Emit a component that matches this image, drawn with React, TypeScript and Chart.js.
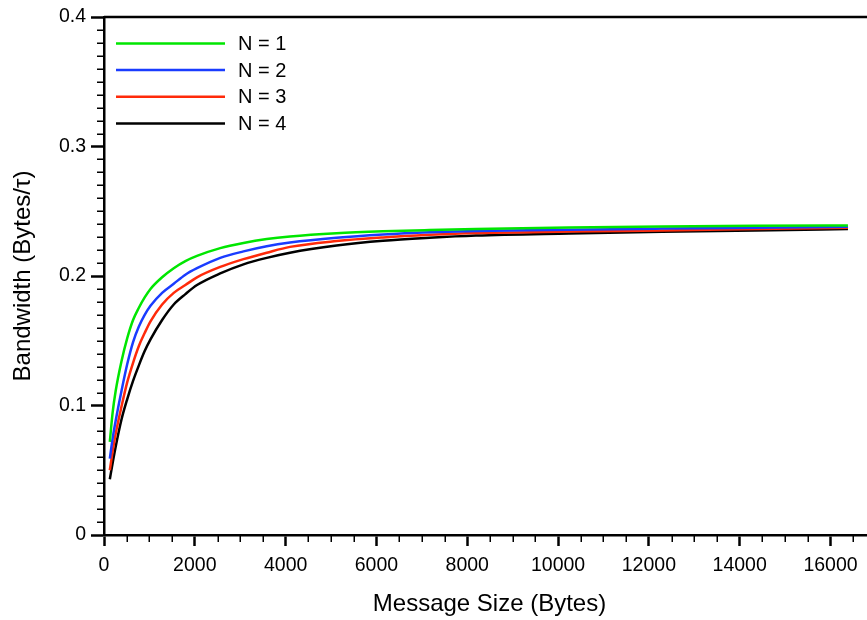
import React, { useEffect, useRef } from 'react';
import { Chart, registerables } from 'chart.js';

Chart.register(...registerables);

// Message size (bytes) sampled along the curves
const messageSizes = [128, 192, 256, 384, 512, 640, 768, 896, 1024, 1280, 1536, 1792, 2048, 2560, 3072, 3584, 4096, 5120, 6144, 7168, 8192, 10240, 12288, 14336, 16384];

// Bandwidth (Bytes/τ)
const bandwidthN1 = [0.072, 0.095, 0.111, 0.134, 0.152, 0.166, 0.1755, 0.1835, 0.190, 0.199, 0.206, 0.2115, 0.2155, 0.2215, 0.2255, 0.2285, 0.2305, 0.233, 0.2345, 0.2355, 0.2363, 0.2375, 0.2383, 0.2388, 0.239];
const bandwidthN2 = [0.059, 0.075, 0.088, 0.111, 0.132, 0.149, 0.161, 0.170, 0.177, 0.187, 0.194, 0.201, 0.206, 0.214, 0.219, 0.223, 0.2258, 0.2295, 0.232, 0.2337, 0.2348, 0.2358, 0.2366, 0.2373, 0.238];
const bandwidthN3 = [0.050, 0.065, 0.078, 0.099, 0.118, 0.133, 0.146, 0.156, 0.165, 0.178, 0.187, 0.193, 0.199, 0.207, 0.213, 0.218, 0.2225, 0.227, 0.2298, 0.2318, 0.2332, 0.2343, 0.2352, 0.2362, 0.2373];
const bandwidthN4 = [0.043, 0.056, 0.068, 0.089, 0.105, 0.119, 0.131, 0.142, 0.151, 0.166, 0.178, 0.186, 0.193, 0.202, 0.209, 0.214, 0.218, 0.2235, 0.2272, 0.2295, 0.2312, 0.2328, 0.2341, 0.2352, 0.2362];

const seriesLabels = ['N = 1', 'N = 2', 'N = 3', 'N = 4'];
const seriesColors = ['#00e600', '#1a3cff', '#ff2a0a', '#000000'];

const xMajorTicks = [0, 2000, 4000, 6000, 8000, 10000, 12000, 14000, 16000];
const yMajorTicks = [0, 0.1, 0.2, 0.3, 0.4];
const yTickLabels = ['0', '0.1', '0.2', '0.3', '0.4'];

const xAxisTitle = 'Message Size (Bytes)';
const yAxisTitle = 'Bandwidth (Bytes/τ)';

const FONT = "'Liberation Sans', Arial, Helvetica, sans-serif";

// the plotted frame runs slightly past the right edge of the visible picture
const CANVAS_W = 875;
const CANVAS_H = 620;

const framePlugin = {
  id: 'framePlugin',
  afterDraw(chart: any) {
    const { ctx, chartArea } = chart;
    const xs = chart.scales.x;
    const ys = chart.scales.y;
    ctx.save();
    ctx.strokeStyle = '#000';
    // top frame line
    ctx.lineWidth = 2.5;
    ctx.beginPath();
    ctx.moveTo(chartArea.left, chartArea.top);
    ctx.lineTo(chartArea.right, chartArea.top);
    ctx.stroke();
    // minor ticks
    ctx.lineWidth = 1.5;
    ctx.beginPath();
    for (let v = 500; v < xs.max; v += 500) {
      if (v % 2000 === 0) continue;
      const px = Math.round(xs.getPixelForValue(v)) + 0.25;
      ctx.moveTo(px, chartArea.bottom);
      ctx.lineTo(px, chartArea.bottom + 7);
    }
    for (let i = 1; i < 40; i++) {
      if (i % 10 === 0) continue;
      const py = Math.round(ys.getPixelForValue(i / 100)) + 0.25;
      ctx.moveTo(chartArea.left - 7, py);
      ctx.lineTo(chartArea.left, py);
    }
    ctx.stroke();
    ctx.restore();
  },
};

const legendPlugin = {
  id: 'insideLegend',
  afterDatasetsDraw(chart: any) {
    const { ctx, chartArea } = chart;
    ctx.save();
    ctx.font = `20px ${FONT}`;
    ctx.textBaseline = 'middle';
    ctx.textAlign = 'left';
    chart.data.datasets.forEach((ds: any, i: number) => {
      const y = chartArea.top + 26.4 + i * 26.7;
      const x0 = chartArea.left + 12;
      ctx.strokeStyle = ds.borderColor;
      ctx.lineWidth = 2.5;
      ctx.beginPath();
      ctx.moveTo(x0, y);
      ctx.lineTo(x0 + 109, y);
      ctx.stroke();
      ctx.fillStyle = '#000';
      ctx.fillText(ds.label, x0 + 122, y + 1);
    });
    ctx.restore();
  },
};

export default function App() {
  const ref = useRef<HTMLCanvasElement>(null);
  useEffect(() => {
    document.body.style.margin = '0';
    const canvas = ref.current!;
    Chart.defaults.font.family = FONT;
    const series = [bandwidthN1, bandwidthN2, bandwidthN3, bandwidthN4];
    const chart = new Chart(canvas, {
      type: 'line',
      data: {
        datasets: series.map((s, i) => ({
          label: seriesLabels[i],
          data: messageSizes.map((x, j) => ({ x, y: s[j] })),
          borderColor: seriesColors[i],
          backgroundColor: seriesColors[i],
          borderWidth: 2.5,
          pointRadius: 0,
          cubicInterpolationMode: 'monotone',
          fill: false,
        })),
      },
      options: {
        responsive: false,
        animation: false,
        layout: { padding: { top: 17, left: 0, right: 0, bottom: 0 } },
        plugins: { legend: { display: false }, tooltip: { enabled: false } },
        scales: {
          x: {
            type: 'linear',
            min: 0,
            max: 16980,
            afterFit: (s: any) => { s.height = 85; },
            afterBuildTicks: (s: any) => { s.ticks = xMajorTicks.map((value) => ({ value })); },
            ticks: { color: '#000', font: { size: 19.5 }, padding: 8, maxRotation: 0, minRotation: 0, autoSkip: false, callback: (v: any) => String(v) },
            grid: { display: true, drawOnChartArea: false, drawTicks: true, tickLength: 11, tickWidth: 2.5, tickColor: '#000' },
            border: { display: true, color: '#000', width: 2.5 },
            title: { display: true, text: xAxisTitle, color: '#000', font: { size: 24 }, padding: { top: 0, bottom: 1 } },
          },
          y: {
            type: 'linear',
            min: 0,
            max: 0.4,
            afterFit: (s: any) => { s.width = 104; },
            afterBuildTicks: (s: any) => { s.ticks = yMajorTicks.map((value) => ({ value })); },
            ticks: {
              color: '#000',
              font: { size: 19.5 },
              padding: 5,
              autoSkip: false,
              callback: (_v: any, i: number) => yTickLabels[i],
            },
            grid: { display: true, drawOnChartArea: false, drawTicks: true, tickLength: 13, tickWidth: 2.5, tickColor: '#000' },
            border: { display: true, color: '#000', width: 2.5 },
            title: { display: true, text: yAxisTitle, color: '#000', font: { size: 24 }, padding: { top: 9, bottom: 0 } },
          },
        },
      } as any,
      plugins: [framePlugin, legendPlugin],
    });
    return () => chart.destroy();
  }, []);
  return (
    <div style={{ position: 'fixed', left: 0, top: 0, width: 867, height: 620, background: '#fff', overflow: 'hidden' }}>
      <canvas ref={ref} width={CANVAS_W} height={CANVAS_H} style={{ display: 'block', width: CANVAS_W, height: CANVAS_H }} />
    </div>
  );
}
